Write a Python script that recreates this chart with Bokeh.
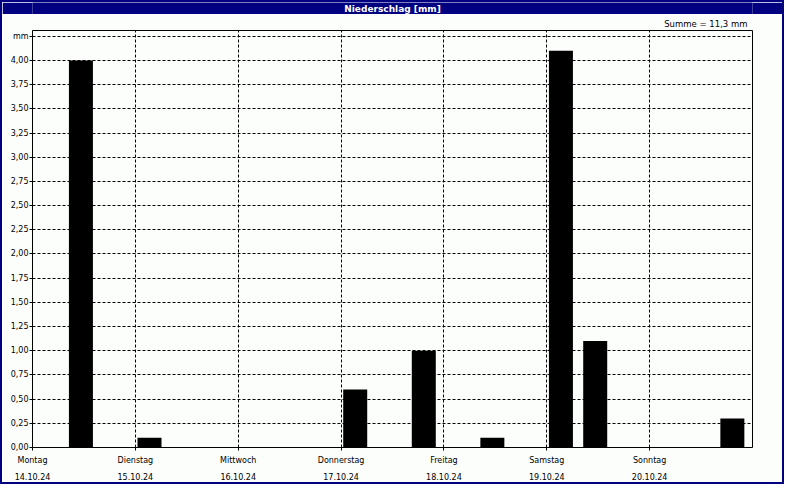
from bokeh.plotting import figure
from bokeh.models import FixedTicker, LinearAxis, Range1d, Grid, Title, ColumnDataSource
from bokeh.layouts import column
from bokeh.embed import file_html
from bokeh.resources import INLINE
from bokeh.core.properties import value

# ---- data ----
title_text = "Niederschlag [mm]"
total_text = "Summe = 11,3 mm"
day_names = ["Montag", "Dienstag", "Mittwoch", "Donnerstag", "Freitag", "Samstag", "Sonntag"]
day_dates = ["14.10.24", "15.10.24", "16.10.24", "17.10.24", "18.10.24", "19.10.24", "20.10.24"]
day_start_hours = [0, 24, 48, 72, 96, 120, 144]
slot_start_hours = [8, 24, 72, 88, 104, 120, 128, 160]   # 8-hour slots, hours since Monday 00:00
precip_mm = [4.0, 0.1, 0.6, 1.0, 0.1, 4.1, 1.1, 0.3]
y_ticks = [0.0, 0.25, 0.5, 0.75, 1.0, 1.25, 1.5, 1.75, 2.0, 2.25, 2.5, 2.75,
           3.0, 3.25, 3.5, 3.75, 4.0, 4.25]
y_tick_labels = ["0,00", "0,25", "0,50", "0,75", "1,00", "1,25", "1,50", "1,75", "2,00",
                 "2,25", "2,50", "2,75", "3,00", "3,25", "3,50", "3,75", "4,00", "mm"]

FONT = "DejaVu Sans"
NAVY = "#000080"
BG = "#FCFEFC"
W = 780

# ---- title bar ----
tfig = figure(width=W, height=12, x_range=Range1d(0, 1), y_range=Range1d(0, 1),
              x_axis_type=None, y_axis_type=None, toolbar_location=None,
              output_backend="svg", min_border=0,
              background_fill_color=NAVY, border_fill_color=NAVY, outline_line_color=None)
tfig.xgrid.visible = False
tfig.ygrid.visible = False
tfig.text(x=[0.5], y=[0.45], text=[title_text], text_align="center", text_baseline="middle",
          text_color="white", text_font=value(FONT), text_font_size="9px",
          text_font_style="bold")

# ---- main chart ----
p = figure(width=W, height=468, x_range=Range1d(0, 168), y_range=Range1d(0, 4.31),
           x_axis_type=None, y_axis_type=None, toolbar_location=None,
           output_backend="svg",
           min_border_left=30, min_border_right=30, min_border_top=16, min_border_bottom=34,
           background_fill_color=BG, border_fill_color=BG,
           outline_line_color="black", outline_line_width=1)

p.title = Title(text=total_text, align="right", text_font=FONT, text_font_size="8.5px",
                text_font_style="normal", text_color="black", standoff=3, offset=5)

# grids
xg = Grid(dimension=0, ticker=FixedTicker(ticks=day_start_hours[1:]),
          grid_line_color="black", grid_line_dash="3 2", grid_line_width=1)
yg = Grid(dimension=1, ticker=FixedTicker(ticks=y_ticks[1:]),
          grid_line_color="black", grid_line_dash="3 2", grid_line_width=1)
p.add_layout(xg)
p.add_layout(yg)

# bars
src = ColumnDataSource(dict(
    left=[h + 0.5 for h in slot_start_hours],
    right=[h + 6.1 for h in slot_start_hours],
    top=precip_mm,
    bottom=[0] * len(precip_mm),
))
p.quad(left="left", right="right", top="top", bottom="bottom", source=src,
       fill_color="black", line_color="black", line_width=0)

# y axis
yax = LinearAxis(ticker=FixedTicker(ticks=y_ticks),
                 major_label_overrides={t: l for t, l in zip(y_ticks, y_tick_labels)},
                 axis_line_color=None, major_tick_in=0, major_tick_out=3,
                 major_tick_line_color="black", minor_tick_line_color=None,
                 major_label_standoff=1, major_label_text_font=FONT,
                 major_label_text_font_size="8px", major_label_text_color="black")
p.add_layout(yax, "left")

# x axes: day names, then dates
xax1 = LinearAxis(ticker=FixedTicker(ticks=day_start_hours),
                  major_label_overrides={h: n for h, n in zip(day_start_hours, day_names)},
                  axis_line_color=None, major_tick_in=0, major_tick_out=3,
                  major_tick_line_color="black", minor_tick_line_color=None,
                  major_label_standoff=5, major_label_text_font=FONT,
                  major_label_text_font_size="8px", major_label_text_color="black")
xax2 = LinearAxis(ticker=FixedTicker(ticks=day_start_hours),
                  major_label_overrides={h: d for h, d in zip(day_start_hours, day_dates)},
                  axis_line_color=None, major_tick_in=0, major_tick_out=0,
                  major_tick_line_color=None, minor_tick_line_color=None,
                  major_label_standoff=5, major_label_text_font=FONT,
                  major_label_text_font_size="8px", major_label_text_color="black")
p.add_layout(xax1, "below")
p.add_layout(xax2, "below")

layout = column(tfig, p, spacing=0, styles={"border": "2px solid " + NAVY})

open("out.html", "w").write(file_html(layout, INLINE))
